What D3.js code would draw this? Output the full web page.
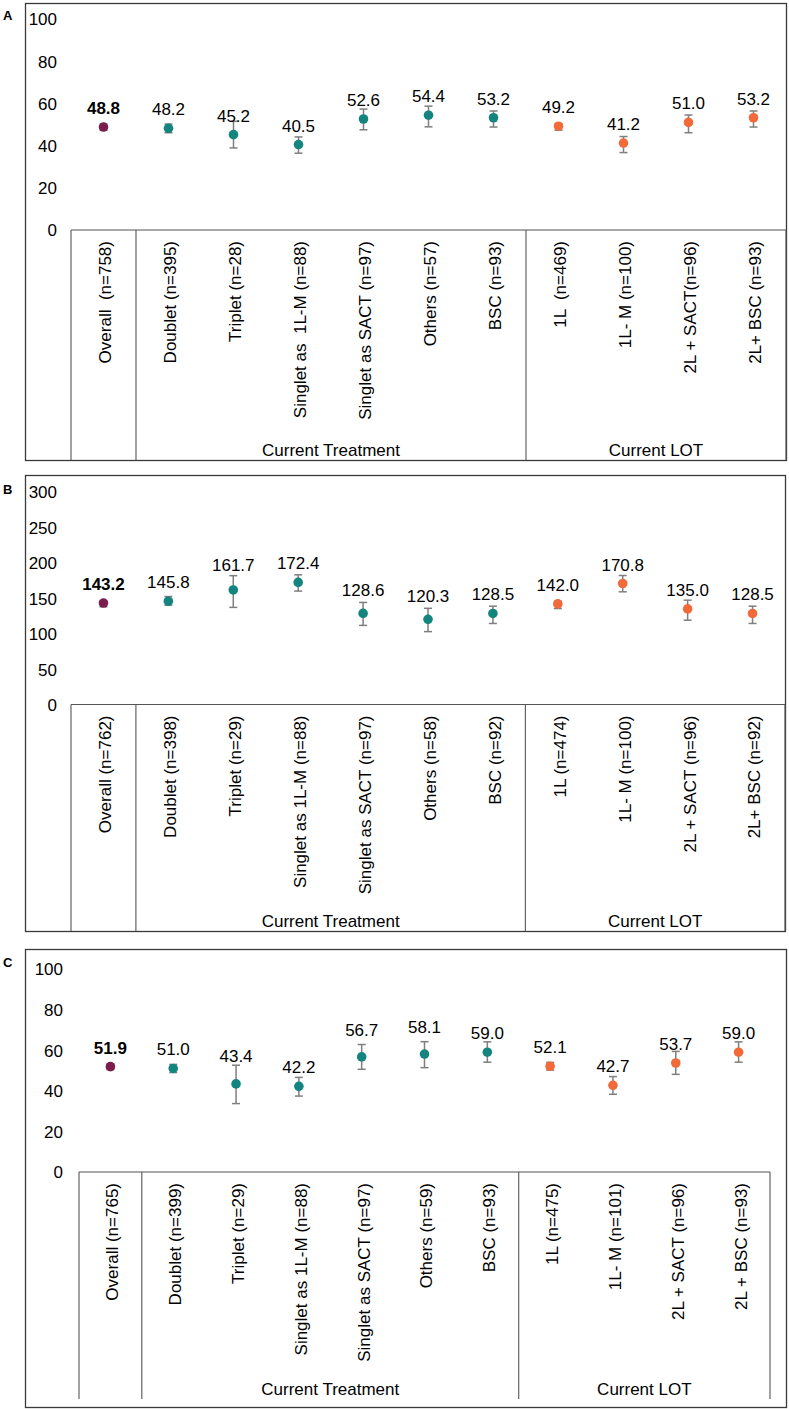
<!DOCTYPE html>
<html>
<head>
<meta charset="utf-8">
<script src="https://cdn.jsdelivr.net/npm/d3@7"></script>
<style>
  html, body { margin: 0; padding: 0; background: #fff; }
  svg { display: block; font-family: "Liberation Sans", Arial, sans-serif; }
</style>
</head>
<body>
<svg id="chart" width="789" height="1409"></svg>
<script>
// ---------------- DATA ----------------
const groupNames = ["Current Treatment", "Current LOT"];
const groupOf = [null, 0, 0, 0, 0, 0, 0, 1, 1, 1, 1];
const pointType = ["overall", "treat", "treat", "treat", "treat", "treat", "treat", "lot", "lot", "lot", "lot"];

// Panel A
const labelsA = ["Overall  (n=758)", "Doublet (n=395)", "Triplet (n=28)", "Singlet as  1L-M (n=88)", "Singlet as SACT (n=97)", "Others (n=57)", "BSC (n=93)", "1L  (n=469)", "1L- M (n=100)", "2L + SACT(n=96)", "2L+ BSC (n=93)"];
const valuesA = [48.8, 48.2, 45.2, 40.5, 52.6, 54.4, 53.2, 49.2, 41.2, 51.0, 53.2];
const lowA    = [47.3, 46.1, 38.9, 36.4, 47.5, 48.9, 48.8, 47.3, 36.7, 46.1, 48.8];
const highA   = [50.3, 50.2, 51.5, 44.1, 57.3, 58.7, 56.4, 50.4, 44.3, 54.5, 56.4];
const ticksA  = [0, 20, 40, 60, 80, 100];

// Panel B
const labelsB = ["Overall (n=762)", "Doublet (n=398)", "Triplet (n=29)", "Singlet as 1L-M (n=88)", "Singlet as SACT (n=97)", "Others (n=58)", "BSC (n=92)", "1L (n=474)", "1L- M (n=100)", "2L + SACT (n=96)", "2L+ BSC (n=92)"];
const valuesB = [143.2, 145.8, 161.7, 172.4, 128.6, 120.3, 128.5, 142.0, 170.8, 135.0, 128.5];
const lowB    = [138.0, 140.2, 137.1, 160.1, 111.7, 102.9, 114.4, 135.5, 159.1, 119.0, 114.4];
const highB   = [146.6, 152.4, 181.9, 183.1, 144.1, 135.8, 138.8, 145.8, 182.1, 147.3, 138.8];
const ticksB  = [0, 50, 100, 150, 200, 250, 300];

// Panel C
const labelsC = ["Overall (n=765)", "Doublet (n=399)", "Triplet (n=29)", "Singlet as 1L-M (n=88)", "Singlet as SACT (n=97)", "Others (n=59)", "BSC (n=93)", "1L (n=475)", "1L- M (n=101)", "2L + SACT (n=96)", "2L + BSC (n=93)"];
const valuesC = [51.9, 51.0, 43.4, 42.2, 56.7, 58.1, 59.0, 52.1, 42.7, 53.7, 59.0];
const lowC    = [50.4, 49.0, 33.7, 37.4, 50.6, 51.4, 54.1, 50.2, 38.3, 48.1, 54.1];
const highC   = [53.2, 53.0, 52.6, 46.6, 62.8, 64.2, 64.1, 54.0, 47.0, 59.4, 64.1];
const ticksC  = [0, 20, 40, 60, 80, 100];

// ---------------- LAYOUT / STYLE ----------------
const colors = { overall: "#7b1c4c", treat: "#14857e", lot: "#f2693a" };
const panels = [
  { letter: "A", labels: labelsA, values: valuesA, low: lowA, high: highA, ticks: ticksA,
    box: [25, 3, 786, 460], zeroY: 230, topY: 19, tableL: 71, tableR: 786, tableB: 460, tickX: 57, letterY: 20,
    lift: [0, 0, 0, 0, 0, 0, 0, 0, 0, 0, 0] },
  { letter: "B", labels: labelsB, values: valuesB, low: lowB, high: highB, ticks: ticksB,
    box: [25, 475, 785, 931], zeroY: 704.5, topY: 492, tableL: 71, tableR: 785, tableB: 931, tickX: 57, letterY: 494,
    lift: [0, 0, 6, 0, 4, 4, 0, 0, 0, 0, 0] },
  { letter: "C", labels: labelsC, values: valuesC, low: lowC, high: highC, ticks: ticksC,
    box: [25, 949, 786, 1407], zeroY: 1172, topY: 969, tableL: 79, tableR: 770, tableB: 1399, tickX: 63, letterY: 967,
    lift: [0, 0, 9, 0, 8, 8, 0, 0, 0, 0, 0] }
];

const svg = d3.select("#chart");
svg.append("rect").attr("width", 789).attr("height", 1409).attr("fill", "#fff");

panels.forEach(p => {
  const g = svg.append("g");
  const [bx0, by0, bx1, by1] = p.box;
  const yMax = p.ticks[p.ticks.length - 1];

  // outer frame
  g.append("rect")
    .attr("x", bx0 + 0.5).attr("y", by0 + 0.5)
    .attr("width", bx1 - bx0).attr("height", by1 - by0)
    .attr("fill", "none").attr("stroke", "#3a3a3a").attr("stroke-width", 1.3);

  // panel letter
  g.append("text").attr("x", 3).attr("y", p.letterY)
    .attr("font-size", 13).attr("font-weight", "bold").attr("fill", "#000")
    .text(p.letter);

  const y = d3.scaleLinear().domain([0, yMax]).range([p.zeroY, p.topY]);
  const x = d3.scaleBand().domain(d3.range(p.values.length)).range([p.tableL, p.tableR]);

  // y axis (labels only)
  const axis = d3.axisLeft(y).tickValues(p.ticks).tickSize(0).tickPadding(0).tickFormat(d3.format("d"));
  const ag = g.append("g").attr("transform", `translate(${p.tickX},0)`).call(axis);
  ag.select(".domain").remove();
  ag.selectAll("text").attr("font-size", 17).attr("fill", "#000")
    .attr("font-family", "'Liberation Sans', Arial, sans-serif").attr("dy", "0.35em");

  // category table
  const lineCol = "#555";
  const tb = g.append("g").attr("stroke", lineCol).attr("stroke-width", 1.1).attr("fill", "none");
  tb.append("line").attr("x1", p.tableL).attr("x2", p.tableR).attr("y1", p.zeroY).attr("y2", p.zeroY);
  const dividers = [0, 1, 7, 11];
  dividers.forEach(i => {
    const xx = i < p.values.length ? x(i) : p.tableR;
    tb.append("line").attr("x1", xx).attr("x2", xx).attr("y1", p.zeroY).attr("y2", p.tableB);
  });

  // category labels (rotated)
  p.labels.forEach((lab, i) => {
    const cx = x(i) + x.bandwidth() / 2 + 2;
    g.append("text")
      .attr("transform", `translate(${cx},${p.zeroY + 11}) rotate(-90)`)
      .attr("text-anchor", "end").attr("dy", "0.35em")
      .attr("font-size", 17).attr("fill", "#000")
      .style("white-space", "pre")
      .text(lab);
  });

  // group labels
  groupNames.forEach((gn, gi) => {
    const idx = d3.range(p.values.length).filter(i => groupOf[i] === gi);
    const left = x(idx[0]);
    const last = idx[idx.length - 1];
    const right = x(last) + x.bandwidth();
    g.append("text")
      .attr("x", (left + right) / 2).attr("y", p.tableB - 4)
      .attr("text-anchor", "middle").attr("font-size", 17).attr("fill", "#000")
      .text(gn);
  });

  // error bars
  const capW = 4;
  const eb = g.append("g").attr("stroke", "#7f7f7f").attr("stroke-width", 1.5);
  p.values.forEach((v, i) => {
    const cx = x(i) + x.bandwidth() / 2;
    eb.append("line").attr("x1", cx).attr("x2", cx).attr("y1", y(p.low[i])).attr("y2", y(p.high[i]));
    eb.append("line").attr("x1", cx - capW).attr("x2", cx + capW).attr("y1", y(p.low[i])).attr("y2", y(p.low[i]));
    eb.append("line").attr("x1", cx - capW).attr("x2", cx + capW).attr("y1", y(p.high[i])).attr("y2", y(p.high[i]));
  });

  // points
  g.selectAll("circle.pt").data(p.values).enter().append("circle")
    .attr("class", "pt")
    .attr("cx", (d, i) => x(i) + x.bandwidth() / 2)
    .attr("cy", d => y(d))
    .attr("r", 4.8)
    .attr("fill", (d, i) => colors[pointType[i]]);

  // value labels
  g.selectAll("text.val").data(p.values).enter().append("text")
    .attr("class", "val")
    .attr("x", (d, i) => x(i) + x.bandwidth() / 2)
    .attr("y", (d, i) => y(d) - 13 - p.lift[i])
    .attr("text-anchor", "middle").attr("font-size", 17).attr("fill", "#000")
    .attr("font-weight", (d, i) => i === 0 ? "bold" : "normal")
    .text(d => d3.format(".1f")(d));
});
</script>
</body>
</html>
